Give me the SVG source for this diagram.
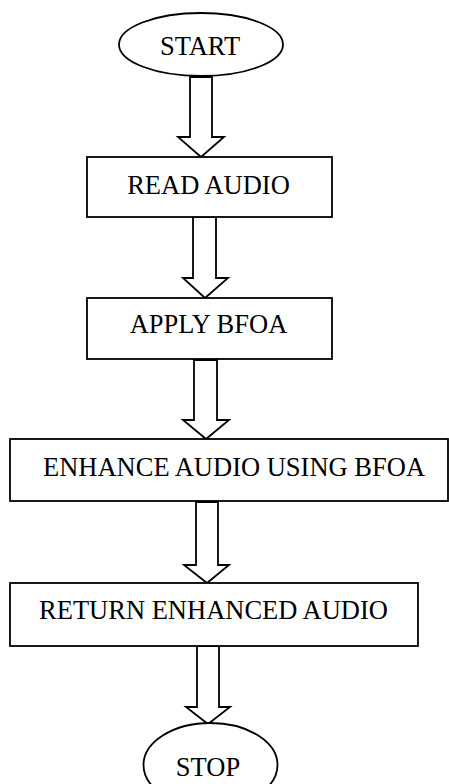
<svg xmlns="http://www.w3.org/2000/svg" width="449" height="784" viewBox="0 0 449 784">
<style>
.shape{fill:#fff;stroke:#000;stroke-width:1.8}
.arrow{fill:#fff;stroke:#000;stroke-width:1.8;stroke-linejoin:miter}
.label{font-family:"Liberation Serif","Times New Roman",serif;font-size:26.5px;fill:#000;text-anchor:middle}
</style>
<rect width="449" height="784" fill="#fff"/>
<g id="connectors">
<polygon class="arrow" points="190,77 212,77 212,137 224,137 201,157 178,137 190,137"/>
<polygon class="arrow" points="193,217 216,217 216,278 228,278 205,298 183,278 193,278"/>
<polygon class="arrow" points="194,360 217,360 217,420 229,420 206,439 183,420 194,420"/>
<polygon class="arrow" points="196,502 218,502 218,565 229,565 207,583 184,565 196,565"/>
<polygon class="arrow" points="197,646 219,646 219,707 230,707 208,724 186,707 197,707"/>
</g>
<g id="start">
<ellipse class="shape" cx="201" cy="44.5" rx="82" ry="31.5"/>
<text class="label" x="200" y="55">START</text>
</g>
<g id="read-audio">
<rect class="shape" x="87" y="157" width="245" height="60"/>
<text class="label" x="208.5" y="194">READ AUDIO</text>
</g>
<g id="apply-bfoa">
<rect class="shape" x="87" y="298" width="245" height="61"/>
<text class="label" x="208.5" y="333">APPLY BFOA</text>
</g>
<g id="enhance-audio">
<rect class="shape" x="10" y="439" width="438" height="62"/>
<text class="label" x="234" y="476">ENHANCE AUDIO USING BFOA</text>
</g>
<g id="return-audio">
<rect class="shape" x="10" y="583" width="408" height="63"/>
<text class="label" x="213.5" y="619">RETURN ENHANCED AUDIO</text>
</g>
<g id="stop">
<ellipse class="shape" cx="210.5" cy="765" rx="67" ry="42"/>
<text class="label" x="208" y="776">STOP</text>
</g>
</svg>
